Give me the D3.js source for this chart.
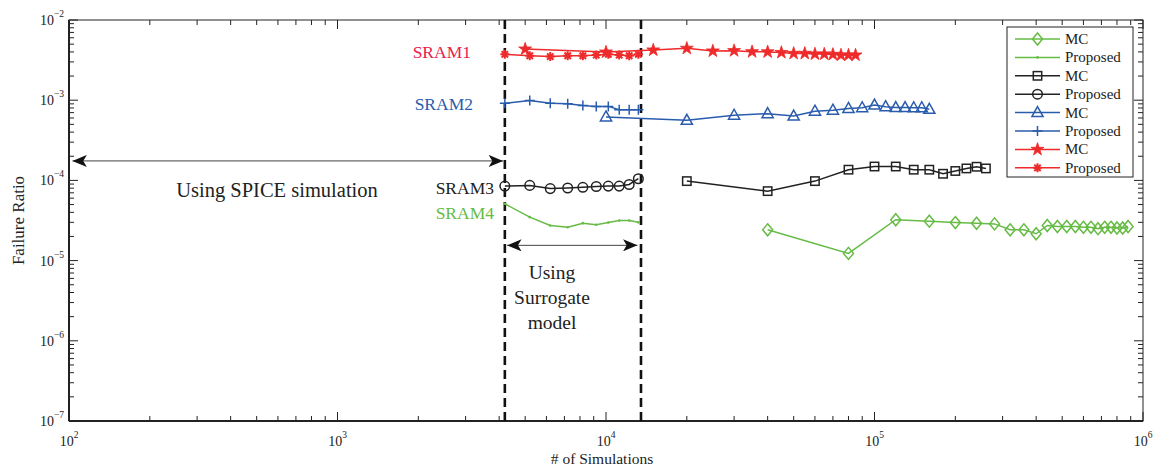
<!DOCTYPE html>
<html>
<head>
<meta charset="utf-8">
<script src="https://d3js.org/d3.v7.min.js"></script>
<style>
  body { margin: 0; background: #fff; }
  svg text { font-family: "Liberation Serif", "DejaVu Serif", serif; }
</style>
</head>
<body>
<svg id="chart" width="1156" height="468"></svg>
<script>
// ---------- data ----------
const sram1Proposed = [[4200,3.73e-3],[5200,3.58e-3],[6200,3.5e-3],[7200,3.58e-3],[8200,3.58e-3],[9200,3.65e-3],[10200,3.73e-3],[11200,3.65e-3],[12200,3.58e-3],[13200,3.73e-3]];
const sram1MC = [[5000,4.34e-3],[10000,3.98e-3],[15000,4.22e-3],[20000,4.43e-3],[25000,4.1e-3],[30000,4.14e-3],[35000,4.02e-3],[40000,4.0e-3],[45000,3.93e-3],[50000,3.83e-3],[55000,3.83e-3],[60000,3.76e-3],[65000,3.76e-3],[70000,3.72e-3],[75000,3.65e-3],[80000,3.65e-3],[85000,3.65e-3]];
const sram2Proposed = [[4200,9.17e-4],[5200,9.9e-4],[6200,9.17e-4],[7200,9.0e-4],[8200,8.6e-4],[9200,8.37e-4],[10200,8.37e-4],[11200,7.6e-4],[12200,7.6e-4],[13200,7.6e-4]];
const sram2MC = [[10000,6.18e-4],[20000,5.62e-4],[30000,6.49e-4],[40000,6.8e-4],[50000,6.35e-4],[60000,7.3e-4],[70000,7.5e-4],[80000,7.9e-4],[90000,8.05e-4],[100000,8.7e-4],[110000,8.3e-4],[120000,8.1e-4],[130000,8.1e-4],[140000,8.05e-4],[150000,8.05e-4],[160000,7.7e-4]];
const sram3Proposed = [[4200,8.49e-5],[5200,8.66e-5],[6200,7.9e-5],[7200,8.05e-5],[8200,8.2e-5],[9200,8.4e-5],[10200,8.49e-5],[11200,8.49e-5],[12200,8.9e-5],[13200,1.05e-4]];
const sram3MC = [[20000,9.8e-5],[40000,7.35e-5],[60000,9.8e-5],[80000,1.36e-4],[100000,1.49e-4],[120000,1.49e-4],[140000,1.36e-4],[160000,1.36e-4],[180000,1.21e-4],[200000,1.31e-4],[220000,1.41e-4],[240000,1.48e-4],[260000,1.41e-4]];
const sram4Proposed = [[4200,5.11e-5],[5200,3.48e-5],[6200,2.74e-5],[7200,2.61e-5],[8200,2.93e-5],[9200,2.8e-5],[10200,2.99e-5],[11200,3.16e-5],[12200,3.16e-5],[13200,3.0e-5]];
const sram4MC = [[40000,2.42e-5],[80000,1.23e-5],[120000,3.23e-5],[160000,3.1e-5],[200000,2.98e-5],[240000,2.92e-5],[280000,2.87e-5],[320000,2.42e-5],[360000,2.42e-5],[400000,2.16e-5],[440000,2.74e-5],[480000,2.66e-5],[520000,2.66e-5],[560000,2.66e-5],[600000,2.6e-5],[640000,2.6e-5],[680000,2.5e-5],[720000,2.6e-5],[760000,2.6e-5],[800000,2.55e-5],[840000,2.55e-5],[880000,2.66e-5]];

const xDecades = [2, 3, 4, 5, 6];
const yDecades = [-2, -3, -4, -5, -6, -7];
const surrogateBounds = [4200, 13500];
const spiceArrowY = 1.75e-4;
const surrogateArrowY = 1.55e-5;

const green = "#66bb44", black = "#222222", blue = "#2a5cad", red = "#ee2a2a";

// series in legend order
const series = [
  { data: sram4MC, color: green, marker: "diamond", label: "MC" },
  { data: sram4Proposed, color: green, marker: "dot", label: "Proposed" },
  { data: sram3MC, color: black, marker: "square", label: "MC" },
  { data: sram3Proposed, color: black, marker: "circle", label: "Proposed" },
  { data: sram2MC, color: blue, marker: "triangle", label: "MC" },
  { data: sram2Proposed, color: blue, marker: "plus", label: "Proposed" },
  { data: sram1MC, color: red, marker: "star", label: "MC" },
  { data: sram1Proposed, color: red, marker: "asterisk", label: "Proposed" }
];

// ---------- layout ----------
const margin = { top: 20, right: 13, bottom: 47, left: 69 };
const width = 1156, height = 468;
const svg = d3.select("#chart");

const x = d3.scaleLog().domain([1e2, 1e6]).range([margin.left, width - margin.right]);
const y = d3.scaleLog().domain([1e-7, 1e-2]).range([height - margin.bottom, margin.top]);

const x0 = x.range()[0], x1 = x.range()[1], y0 = y.range()[0], y1 = y.range()[1];

// minor / major ticks on all four sides (inward)
const ticksG = svg.append("g").attr("stroke", "#222").attr("stroke-width", 1);
function logTicks(lo, hi) {
  const out = [];
  for (let e = lo; e < hi; e++) for (let m = 1; m < 10; m++) out.push({ v: m * Math.pow(10, e), major: m === 1 });
  out.push({ v: Math.pow(10, hi), major: true });
  return out;
}
logTicks(2, 6).forEach(t => {
  const px = x(t.v), len = t.major ? 9 : 5;
  ticksG.append("line").attr("x1", px).attr("x2", px).attr("y1", y0).attr("y2", y0 - len);
  ticksG.append("line").attr("x1", px).attr("x2", px).attr("y1", y1).attr("y2", y1 + len);
});
logTicks(-7, -2).forEach(t => {
  const py = y(t.v), len = t.major ? 9 : 5;
  ticksG.append("line").attr("x1", x0).attr("x2", x0 + len).attr("y1", py).attr("y2", py);
  ticksG.append("line").attr("x1", x1).attr("x2", x1 - len).attr("y1", py).attr("y2", py);
});

// frame
svg.append("rect").attr("x", x0).attr("y", y1).attr("width", x1 - x0).attr("height", y0 - y1)
  .attr("fill", "none").attr("stroke", "#222").attr("stroke-width", 1);
svg.append("line").attr("x1", x0).attr("x2", x1).attr("y1", y0).attr("y2", y0).attr("stroke", "#222").attr("stroke-width", 2);
svg.append("line").attr("x1", x0).attr("x2", x0).attr("y1", y0).attr("y2", y1).attr("stroke", "#222").attr("stroke-width", 2);

// tick labels
xDecades.forEach(e => {
  const t = svg.append("text").attr("x", x(Math.pow(10, e))).attr("y", y0 + 25)
    .attr("text-anchor", "middle").attr("font-size", 14).attr("fill", "#222");
  t.append("tspan").text("10");
  t.append("tspan").attr("dy", -8).attr("font-size", 9.5).text(e);
});
yDecades.forEach(e => {
  const t = svg.append("text").attr("x", x0 - 5).attr("y", y(Math.pow(10, e)) + 5)
    .attr("text-anchor", "end").attr("font-size", 14).attr("fill", "#222");
  t.append("tspan").text("10");
  t.append("tspan").attr("dy", -8).attr("font-size", 9.5).text("\u2212" + (-e));
});

// axis titles
svg.append("text").attr("x", 602).attr("y", height - 4).attr("text-anchor", "middle")
  .attr("font-size", 15.5).attr("fill", "#222").text("# of Simulations");
svg.append("text").attr("transform", `translate(24,${(y0 + y1) / 2}) rotate(-90)`).attr("text-anchor", "middle")
  .attr("font-size", 17).attr("fill", "#222").text("Failure Ratio");

// dashed boundaries
surrogateBounds.forEach(b => {
  svg.append("line").attr("x1", x(b)).attr("x2", x(b)).attr("y1", y1).attr("y2", y0)
    .attr("stroke", "#111").attr("stroke-width", 2.6).attr("stroke-dasharray", "9,5");
});

// arrows
const defs = svg.append("defs");
defs.append("marker").attr("id", "ah").attr("viewBox", "0 -5 12 10").attr("refX", 12).attr("refY", 0)
  .attr("markerWidth", 18).attr("markerHeight", 12).attr("markerUnits", "userSpaceOnUse").attr("orient", "auto-start-reverse")
  .append("path").attr("d", "M0,-5L12,0L0,5L3,0Z").attr("fill", "#111");
function arrow(xa, xb, yv) {
  svg.append("line").attr("x1", x(xa)).attr("x2", x(xb)).attr("y1", y(yv)).attr("y2", y(yv))
    .attr("stroke", "#444").attr("stroke-width", 1)
    .attr("marker-start", "url(#ah)").attr("marker-end", "url(#ah)");
}
arrow(103, surrogateBounds[0] * 0.985, spiceArrowY);
arrow(surrogateBounds[0] * 1.02, surrogateBounds[1] * 0.97, surrogateArrowY);

svg.append("text").attr("x", 277).attr("y", 197).attr("text-anchor", "middle").attr("font-size", 20.5)
  .attr("fill", "#222").text("Using SPICE simulation");
["Using", "Surrogate", "model"].forEach((s, i) => {
  svg.append("text").attr("x", 552).attr("y", 279 + i * 25).attr("text-anchor", "middle").attr("font-size", 19.5)
    .attr("fill", "#222").text(s);
});

// SRAM labels
const sramLabels = [
  { text: "SRAM1", color: "#e8224e", x: 471, y: 58 },
  { text: "SRAM2", color: blue, x: 473, y: 110 },
  { text: "SRAM3", color: black, x: 494, y: 194 },
  { text: "SRAM4", color: green, x: 494, y: 219 }
];
sramLabels.forEach(l => {
  svg.append("text").attr("x", l.x).attr("y", l.y).attr("text-anchor", "end").attr("font-size", 17.5)
    .attr("fill", l.color).text(l.text);
});

// markers
function drawMarker(g, type, cx, cy, color) {
  const m = g.append("g").attr("transform", `translate(${cx},${cy})`);
  const s = { fill: "none", stroke: color, "stroke-width": 1.5 };
  const apply = sel => { Object.entries(s).forEach(([k, v]) => sel.attr(k, v)); return sel; };
  if (type === "diamond") apply(m.append("path").attr("d", "M0,-6L5,0L0,6L-5,0Z"));
  else if (type === "square") apply(m.append("rect").attr("x", -4.2).attr("y", -4.2).attr("width", 8.4).attr("height", 8.4));
  else if (type === "circle") apply(m.append("circle").attr("r", 4.8));
  else if (type === "triangle") apply(m.append("path").attr("d", "M0,-6L5.6,4L-5.6,4Z"));
  else if (type === "plus") apply(m.append("path").attr("d", "M-5,0H5M0,-5V5"));
  else if (type === "dot") m.append("circle").attr("r", 1.3).attr("fill", color);
  else if (type === "star") m.append("path").attr("d", d3.symbol(d3.symbolStar, 52)()).attr("fill", color).attr("stroke", color).attr("stroke-width", 0.8);
  else if (type === "asterisk") {
    apply(m.append("path").attr("d", "M-4.5,0H4.5M0,-4.5V4.5M-3.2,-3.2L3.2,3.2M-3.2,3.2L3.2,-3.2")).attr("stroke-width", 2);
  }
}

const line = d3.line().x(d => x(d[0])).y(d => y(d[1]));
const plot = svg.append("g");
series.forEach(s => {
  plot.append("path").datum(s.data).attr("d", line).attr("fill", "none")
    .attr("stroke", s.color).attr("stroke-width", 1.5);
});
series.forEach(s => {
  s.data.forEach(d => drawMarker(plot, s.marker, x(d[0]), y(d[1]), s.color));
});

// legend
const lg = svg.append("g");
lg.append("rect").attr("x", 1007).attr("y", 27).attr("width", 126).attr("height", 150)
  .attr("fill", "#fff").attr("stroke", "#222").attr("stroke-width", 1);
series.forEach((s, i) => {
  const ly = 39 + i * 18.4;
  lg.append("line").attr("x1", 1015).attr("x2", 1060).attr("y1", ly).attr("y2", ly)
    .attr("stroke", s.color).attr("stroke-width", 1.5);
  drawMarker(lg, s.marker, 1037.5, ly, s.color);
  lg.append("text").attr("x", 1065).attr("y", ly + 5).attr("font-size", 15).attr("fill", "#222").text(s.label);
});
</script>
</body>
</html>
